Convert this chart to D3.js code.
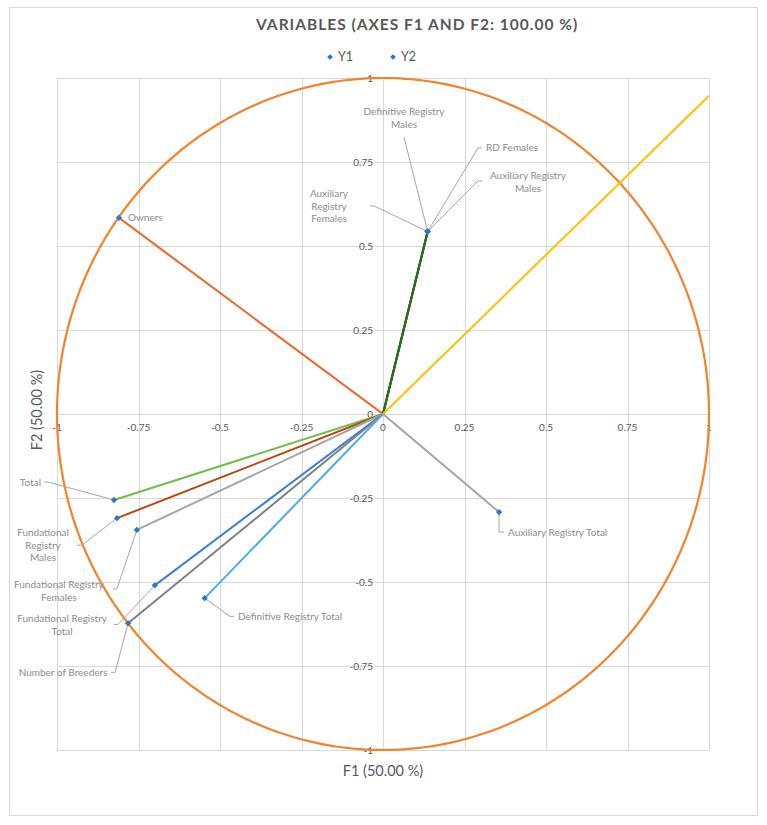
<!DOCTYPE html>
<html>
<head>
<meta charset="utf-8">
<script src="https://cdn.jsdelivr.net/npm/d3@7"></script>
<style>
  body { margin: 0; background: #fff; }
  text { font-family: Lato, "Open Sans", sans-serif; }
</style>
</head>
<body>
<div id="chart"></div>
<script>
// correlation circle, variables on F1 / F2
var variables = ['Owners', 'Definitive Registry Males', 'RD Females', 'Auxiliary Registry Males',
  'Auxiliary Registry Females', 'Total', 'Fundational Registry Males', 'Fundational Registry Females',
  'Fundational Registry Total', 'Number of Breeders', 'Definitive Registry Total', 'Auxiliary Registry Total', ''];
var f1 = [-0.81, 0.137, 0.137, 0.137, 0.137, -0.825, -0.816, -0.755, -0.700, -0.782, -0.547, 0.356, 1.0];
var f2 = [0.584, 0.543, 0.543, 0.543, 0.543, -0.256, -0.310, -0.345, -0.510, -0.623, -0.548, -0.292, 0.947];
var lineColors = ['#F4601C', '#2E6B22', '#2E6B22', '#2E6B22', '#2E6B22', '#6DBE4B', '#B9480C', '#A5A5A5',
  '#3C80D6', '#7F7F7F', '#4EAAE8', '#A5A5A5', '#FFC000'];
var ticks = [-1, -0.75, -0.5, -0.25, 0, 0.25, 0.5, 0.75, 1];
var legendItems = ['Y1', 'Y2'];

// label placement: leader end (dx,dy), elbow hx, text (tx,ty), anchor
var labelLayout = [
  {tx: 9, ty: 0, anchor: 'start'},
  {dx: -23.7, dy: -94.6, hx: 0, tx: -23.7, ty: -113.6, anchor: 'middle', lines: ['Definitive Registry', 'Males']},
  {dx: 50.3, dy: -83.6, hx: 4, tx: 58.3, ty: -83.6, anchor: 'start'},
  {dx: 50.3, dy: -50.6, hx: 4, tx: 100.3, ty: -49.6, anchor: 'middle', lines: ['Auxiliary Registry', 'Males']},
  {dx: -53.7, dy: -25.6, hx: -4, tx: -98.7, ty: -25.1, anchor: 'middle', lines: ['Auxiliary', 'Registry', 'Females']},
  {dx: -66, dy: -18, hx: -4, tx: -73, ty: -18, anchor: 'end'},
  {dx: -35, dy: 27, hx: -5, tx: -74, ty: 27, anchor: 'middle', lines: ['Fundational', 'Registry', 'Males']},
  {dx: -20, dy: 59, hx: -4, tx: -78, ty: 61, anchor: 'middle', lines: ['Fundational Registry', 'Females']},
  {dx: -36.7, dy: 39, hx: -4, tx: -92.7, ty: 39.5, anchor: 'middle', lines: ['Fundational Registry', 'Total']},
  {dx: -13, dy: 49, hx: -4, tx: -65, ty: 49, anchor: 'middle'},
  {dx: 25.3, dy: 18.3, hx: 4, tx: 33.3, ty: 18.3, anchor: 'start'},
  {dx: 0, dy: 20, hx: 5, tx: 9, ty: 20, anchor: 'start'},
  null
];

var W = 767, H = 825;
var x = d3.scaleLinear().domain([-1, 1]).range([57, 709]);
var y = d3.scaleLinear().domain([-1, 1]).range([750, 78]);

var svg = d3.select('#chart').append('svg')
  .attr('width', W)
  .attr('height', H);

svg.append('rect')
  .attr('x', 9.5).attr('y', 7.5)
  .attr('width', 748).attr('height', 808)
  .attr('fill', '#fff')
  .attr('stroke', '#D9D9D9');

// title + legend
svg.append('text')
  .attr('x', 256).attr('y', 30)
  .attr('text-anchor', 'start')
  .attr('font-size', 15.5).attr('font-weight', 700)
  .attr('letter-spacing', 1)
  .attr('fill', '#595959')
  .text('VARIABLES (AXES F1 AND F2: 100.00 %)');

var legend = svg.selectAll('.legend')
  .data(legendItems)
  .enter().append('g')
    .attr('class', 'legend')
    .attr('transform', function(d, i){ return 'translate(' + (330 + i * 63) + ',57)'; });
legend.append('path')
  .attr('d', d3.symbol(d3.symbolSquare, 16))
  .attr('transform', 'rotate(45)')
  .attr('fill', '#2E75C9');
legend.append('text')
  .attr('x', 8).attr('dy', '0.35em')
  .attr('font-size', 12.5).attr('fill', '#595959')
  .text(function(d){ return d; });

// grid
var grid = svg.append('g').attr('stroke', '#D9D9D9').attr('stroke-width', 1);
grid.selectAll('.vx').data(ticks).enter().append('line')
  .attr('x1', function(d){ return Math.round(x(d)) + 0.5; })
  .attr('x2', function(d){ return Math.round(x(d)) + 0.5; })
  .attr('y1', y(1)).attr('y2', y(-1));
grid.selectAll('.hy').data(ticks).enter().append('line')
  .attr('y1', function(d){ return Math.round(y(d)) + 0.5; })
  .attr('y2', function(d){ return Math.round(y(d)) + 0.5; })
  .attr('x1', x(-1)).attr('x2', x(1));

// tick labels at the axes through the origin
var fmt = function(d){ return d === 0 ? '0' : String(d); };
svg.append('g').selectAll('text').data(ticks).enter().append('text')
  .attr('x', function(d){ return x(d); })
  .attr('y', y(0) + 13)
  .attr('dy', '0.35em')
  .attr('text-anchor', 'middle')
  .attr('font-size', 10).attr('fill', '#595959')
  .text(fmt);
svg.append('g').selectAll('text').data(ticks).enter().append('text')
  .attr('x', x(0) - 10)
  .attr('y', function(d){ return y(d); })
  .attr('dy', '0.35em')
  .attr('text-anchor', 'end')
  .attr('font-size', 10).attr('fill', '#595959')
  .text(fmt);

// axis titles
svg.append('text')
  .attr('x', 383).attr('y', 776)
  .attr('text-anchor', 'middle')
  .attr('font-size', 14.5).attr('fill', '#595959')
  .text('F1 (50.00 %)');
svg.append('text')
  .attr('transform', 'translate(42,' + 410 + ') rotate(-90)')
  .attr('text-anchor', 'middle')
  .attr('font-size', 14.5).attr('fill', '#595959')
  .text('F2 (50.00 %)');

svg.append('clipPath').attr('id', 'plot-clip')
  .append('rect')
    .attr('x', x(-1)).attr('y', y(1))
    .attr('width', x(1) - x(-1)).attr('height', y(-1) - y(1));

// unit circle
var circle = d3.line()
  .x(function(a){ return x(Math.cos(a)); })
  .y(function(a){ return y(Math.sin(a)); });
svg.append('path')
  .datum(d3.range(0, 2 * Math.PI + 0.01, Math.PI / 180))
  .attr('d', circle)
  .attr('fill', 'none')
  .attr('stroke', '#F5822B')
  .attr('stroke-width', 2.2);

var idx = d3.range(variables.length);

// vectors
svg.append('g').attr('clip-path', 'url(#plot-clip)')
  .selectAll('line').data(idx).enter().append('line')
    .attr('x1', x(0)).attr('y1', y(0))
    .attr('x2', function(i){ return x(f1[i]); })
    .attr('y2', function(i){ return y(f2[i]); })
    .attr('stroke', function(i){ return lineColors[i]; })
    .attr('stroke-width', 2);

// leader lines
var labelled = idx.filter(function(i){ return labelLayout[i]; });
svg.append('g')
  .selectAll('path').data(labelled.filter(function(i){ return labelLayout[i].dx !== undefined; }))
  .enter().append('path')
    .attr('d', function(i){
      var L = labelLayout[i], px = x(f1[i]), py = y(f2[i]);
      var ex = px + L.dx, ey = py + L.dy;
      var p = [[px, py], [ex, ey]];
      if (L.hx) p.push([ex + L.hx, ey]);
      return d3.line()(p);
    })
    .attr('fill', 'none')
    .attr('stroke', '#A6A6A6')
    .attr('stroke-width', 1);

// markers
svg.append('g').selectAll('path').data(idx.filter(function(i){ return variables[i]; }))
  .enter().append('path')
    .attr('transform', function(i){ return 'translate(' + x(f1[i]) + ',' + y(f2[i]) + ') rotate(45)'; })
    .attr('d', d3.symbol(d3.symbolSquare, 20))
    .attr('fill', '#2E75C9');

// data labels
var labels = svg.append('g').selectAll('text').data(labelled).enter().append('text')
  .attr('x', function(i){ return x(f1[i]) + labelLayout[i].tx; })
  .attr('y', function(i){ return y(f2[i]) + labelLayout[i].ty; })
  .attr('text-anchor', function(i){ return labelLayout[i].anchor; })
  .attr('font-size', 10).attr('fill', '#8C8C8C');
labels.each(function(i){
  var L = labelLayout[i];
  var lines = L.lines || [variables[i]];
  var el = d3.select(this);
  var off = -(lines.length - 1) / 2 * 12.5;
  lines.forEach(function(s, k){
    el.append('tspan')
      .attr('x', x(f1[i]) + L.tx)
      .attr('y', y(f2[i]) + L.ty + off + k * 12.5)
      .attr('dy', '0.35em')
      .text(s);
  });
});
</script>
</body>
</html>
